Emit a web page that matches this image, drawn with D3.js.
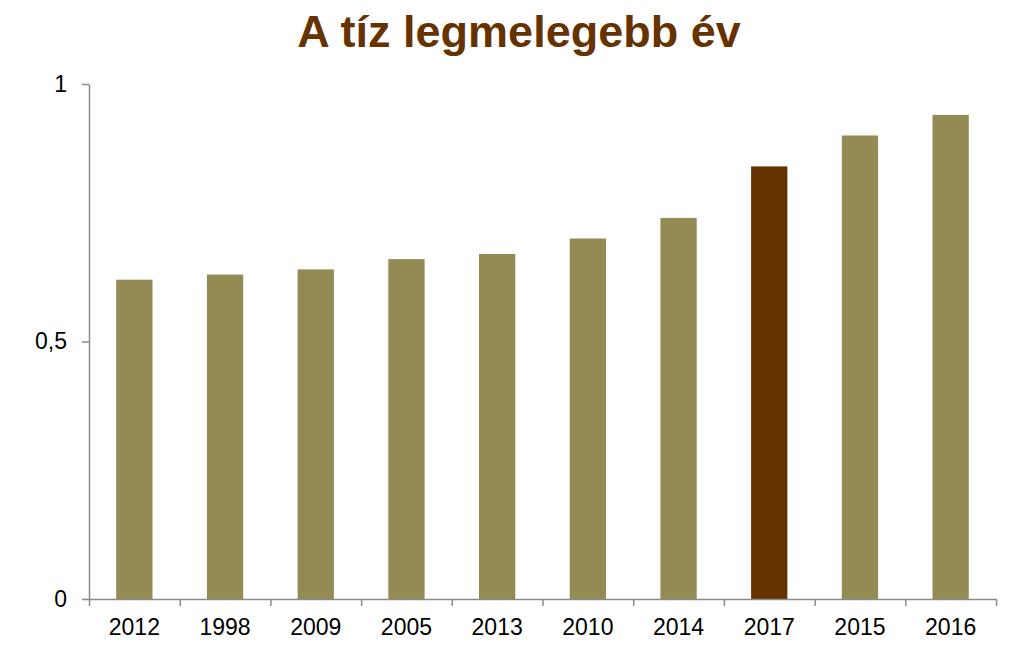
<!DOCTYPE html>
<html>
<head>
<meta charset="utf-8">
<script src="https://cdn.jsdelivr.net/npm/d3@7"></script>
<style>
  html, body { margin: 0; padding: 0; background: #ffffff; }
  svg { display: block; }
</style>
</head>
<body>
<svg id="chart" width="1024" height="651"></svg>
<script>
const categories = ["2012", "1998", "2009", "2005", "2013", "2010", "2014", "2017", "2015", "2016"];
const values = [0.62, 0.63, 0.64, 0.66, 0.67, 0.70, 0.74, 0.84, 0.90, 0.94];
const highlight = ["2017"];
const yTicks = [0, 0.5, 1];
const yTickLabels = ["0", "0,5", "1"];
const title = "A tíz legmelegebb év";

(function () {
const svg = d3.select("#chart");
const mLeft = 89, mRight = 996, mTop = 84, mBottom = 599;
const axisColor = "#8a8a8a";

const x = d3.scaleBand().domain(categories).range([mLeft, mRight]).paddingInner(0.6).paddingOuter(0.3);
const y = d3.scaleLinear().domain([0, 1]).range([mBottom, mTop]);
const xb = d3.scaleLinear().domain([0, categories.length]).range([mLeft, mRight]);

// title
svg.append("text")
  .attr("x", 519).attr("y", 47)
  .attr("text-anchor", "middle")
  .attr("font-family", "Liberation Sans, Arial, sans-serif")
  .attr("font-weight", "bold")
  .attr("font-size", 45)
  .attr("fill", "#663300")
  .text(title);

// bars
svg.append("g").selectAll("rect")
  .data(categories.map((c, i) => ({ c, v: values[i] })))
  .join("rect")
  .attr("x", d => x(d.c))
  .attr("width", x.bandwidth())
  .attr("y", d => y(d.v))
  .attr("height", d => y(0) - y(d.v))
  .attr("fill", d => highlight.includes(d.c) ? "#663300" : "#948a54");

// y axis
const yAxis = svg.append("g")
  .attr("transform", `translate(${mLeft},0)`)
  .call(d3.axisLeft(y).tickValues(yTicks).tickFormat((d, i) => yTickLabels[i]).tickSize(7).tickSizeOuter(0).tickPadding(15));
yAxis.select(".domain").attr("stroke", axisColor).attr("stroke-width", 1.5);
yAxis.selectAll(".tick line").attr("stroke", axisColor).attr("stroke-width", 1.5);
yAxis.selectAll(".tick text")
  .attr("font-family", "Liberation Sans, Arial, sans-serif")
  .attr("font-size", 23).attr("fill", "#000");

// x axis boundary ticks
const xAxisTicks = svg.append("g")
  .attr("transform", `translate(0,${mBottom})`)
  .call(d3.axisBottom(xb).tickValues(d3.range(categories.length + 1)).tickFormat("").tickSize(7).tickSizeOuter(0));
xAxisTicks.select(".domain").attr("stroke", axisColor).attr("stroke-width", 1.5);
xAxisTicks.selectAll(".tick line").attr("stroke", axisColor).attr("stroke-width", 1.5);

// x labels
const xAxis = svg.append("g")
  .attr("transform", `translate(0,${mBottom})`)
  .call(d3.axisBottom(x).tickSize(0).tickPadding(20));
xAxis.select(".domain").remove();
xAxis.selectAll(".tick text")
  .attr("font-family", "Liberation Sans, Arial, sans-serif")
  .attr("font-size", 23).attr("fill", "#000");
})();
</script>
</body>
</html>
